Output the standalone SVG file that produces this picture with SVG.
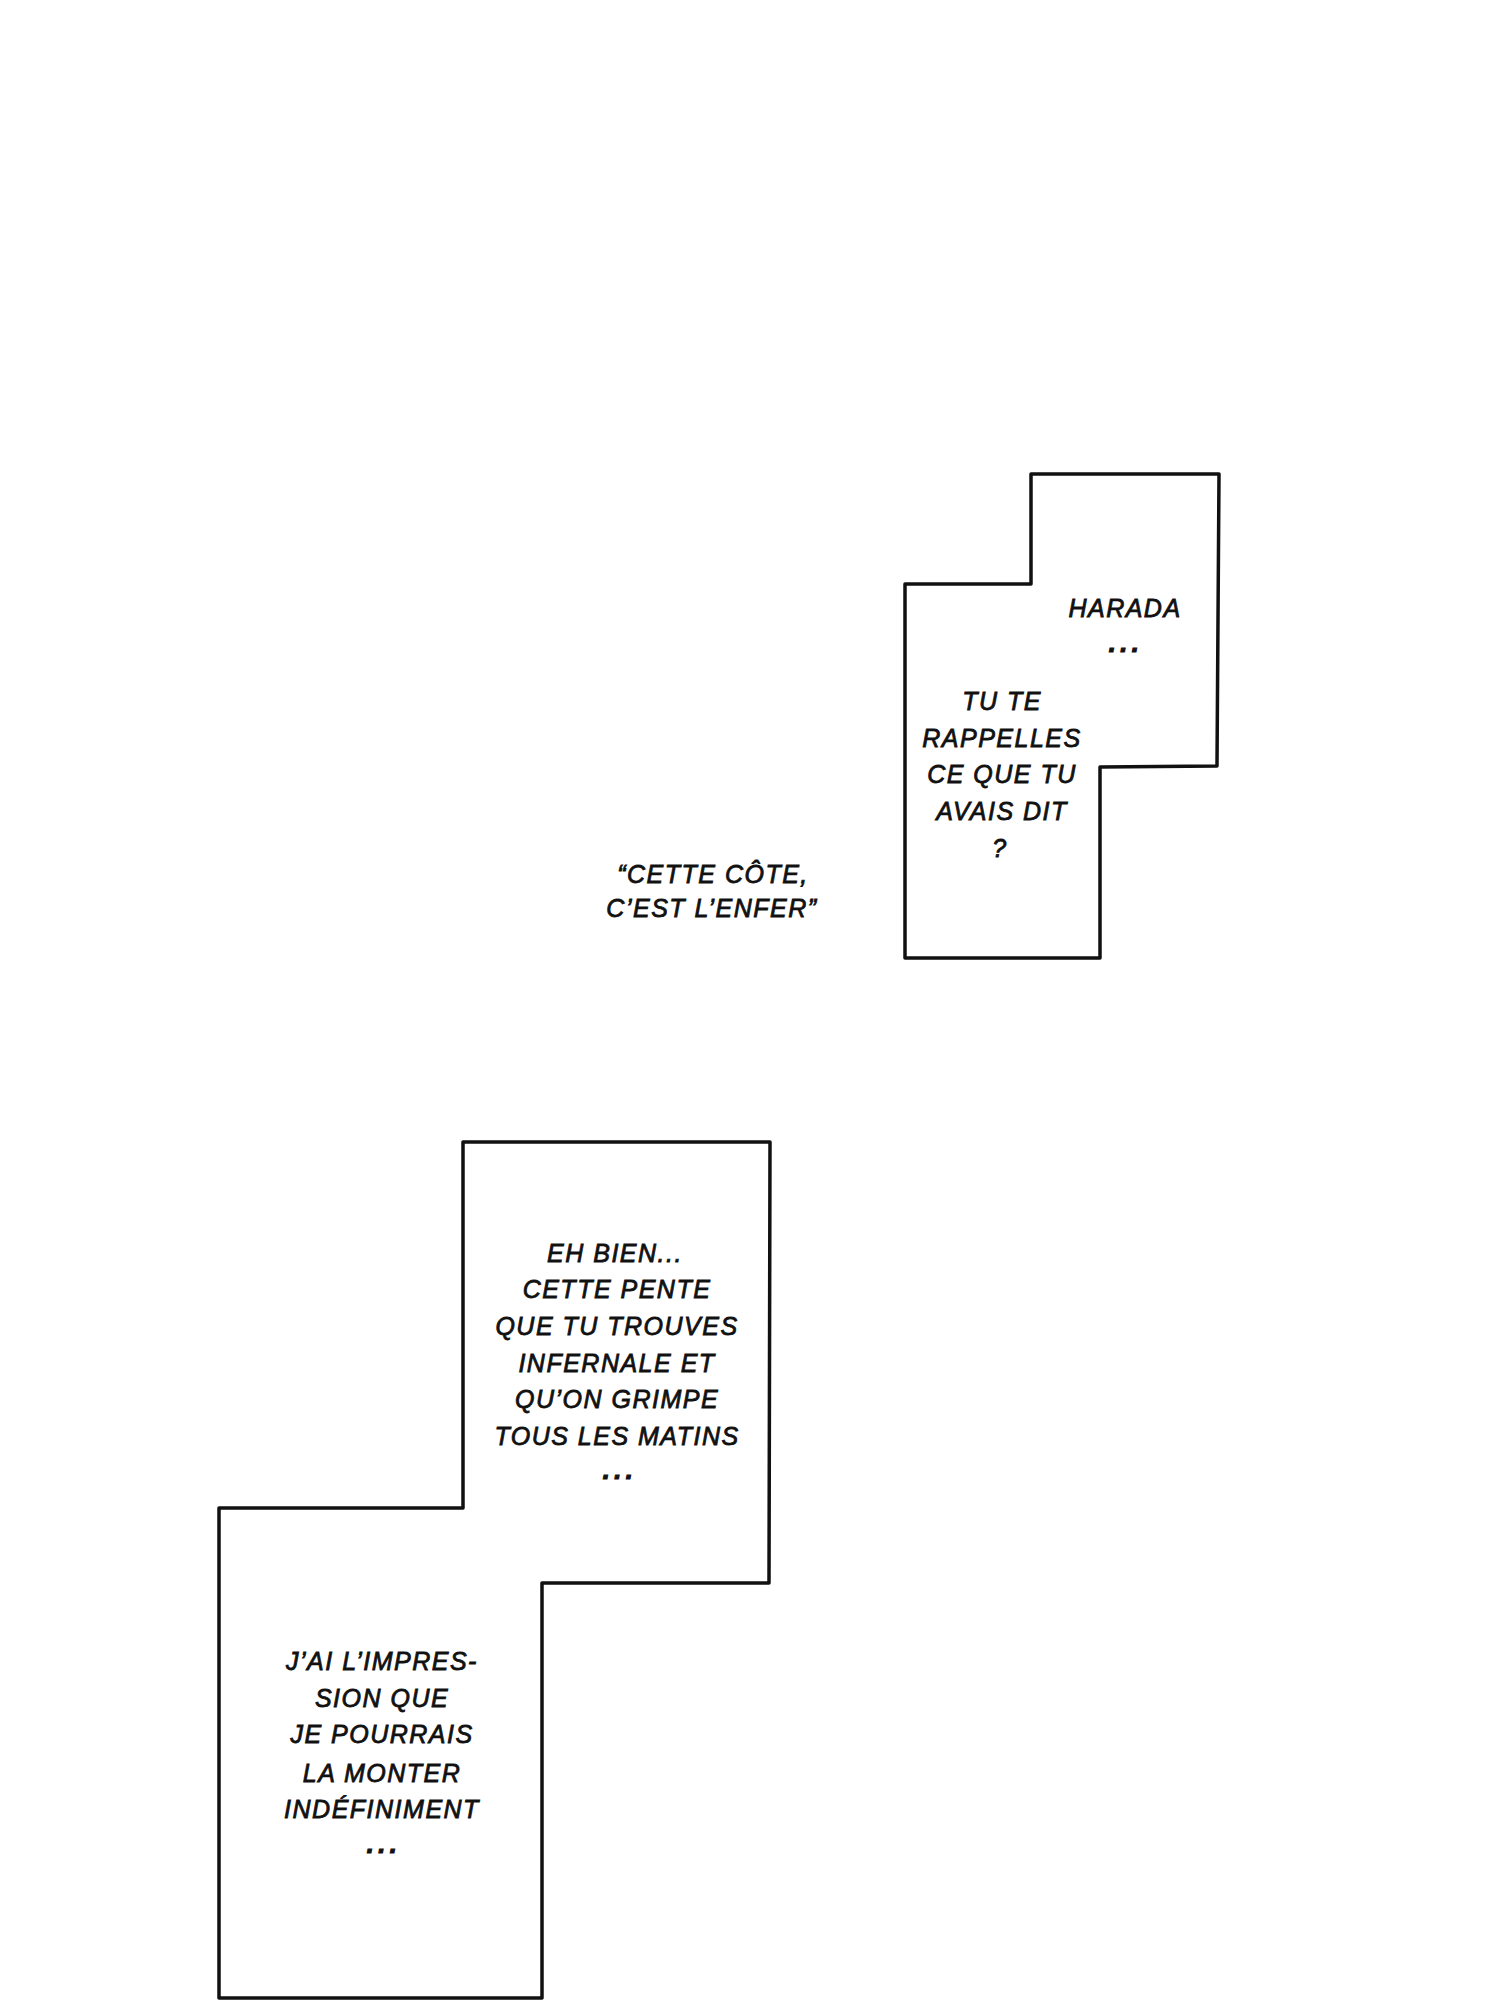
<svg xmlns="http://www.w3.org/2000/svg" width="1500" height="2000" viewBox="0 0 1500 2000">
<style>
.panel{fill:#fff;stroke:#111;stroke-width:3.5;stroke-linejoin:round;stroke-linecap:round}
.t{font-family:"Liberation Sans","Open Sans",sans-serif;font-style:italic;font-size:25px;fill:#111;stroke:#111;stroke-width:0.8px;text-anchor:middle;letter-spacing:1.5px}
.d{letter-spacing:4.5px;font-weight:bold;stroke-width:1.2px}
</style>
<rect width="1500" height="2000" fill="#fff"/>
<g id="panel-harada">
<polygon class="panel" points="1031,474 1219,474 1217,766 1100,767 1100,958 905,958 905,584 1031,584"/>
<text class="t" x="1125" y="617">HARADA</text>
<text class="t d" x="1126" y="652">...</text>
<text class="t" x="1002" y="710">TU TE</text>
<text class="t" x="1002" y="747">RAPPELLES</text>
<text class="t" x="1002" y="783">CE QUE TU</text>
<text class="t" x="1002" y="820">AVAIS DIT</text>
<text class="t" x="1000" y="857">?</text>
</g>
<g id="quote">
<text class="t" x="713" y="883">“CETTE CÔTE,</text>
<text class="t" x="712" y="917">C’EST L’ENFER”</text>
</g>
<g id="panel-pente">
<polygon class="panel" points="463,1142 770,1142 769,1583 542,1583 542,1998 219,1998 219,1508 463,1508"/>
<text class="t" x="615" y="1262">EH BIEN...</text>
<text class="t" x="617" y="1298">CETTE PENTE</text>
<text class="t" x="617" y="1335">QUE TU TROUVES</text>
<text class="t" x="617" y="1372">INFERNALE ET</text>
<text class="t" x="617" y="1408">QU’ON GRIMPE</text>
<text class="t" x="617" y="1445">TOUS LES MATINS</text>
<text class="t d" x="620" y="1479">...</text>
<text class="t" x="382" y="1670">J’AI L’IMPRES-</text>
<text class="t" x="382" y="1707">SION QUE</text>
<text class="t" x="382" y="1743">JE POURRAIS</text>
<text class="t" x="382" y="1782">LA MONTER</text>
<text class="t" x="382" y="1818">INDÉFINIMENT</text>
<text class="t d" x="384" y="1853">...</text>
</g>
<g id="connectors"></g>
</svg>
